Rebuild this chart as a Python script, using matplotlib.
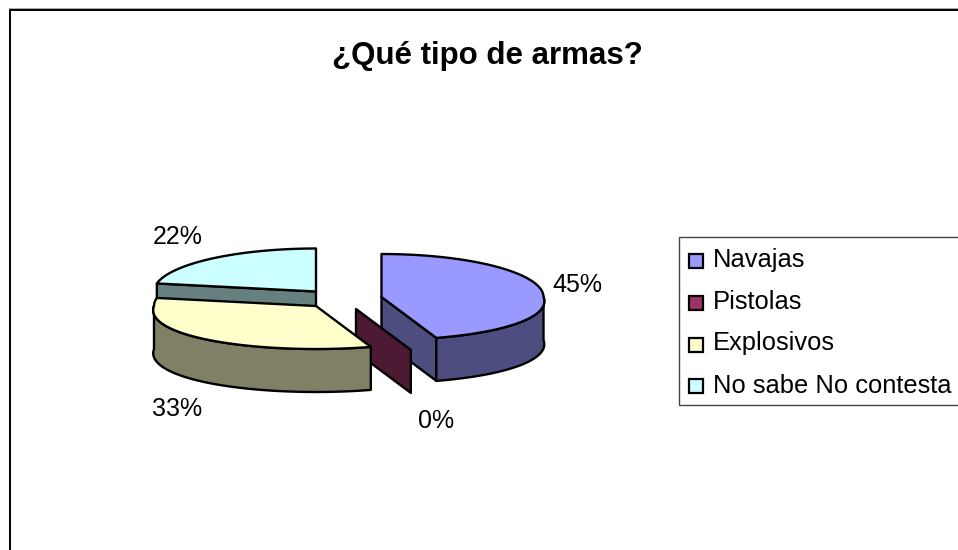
import numpy as np
import matplotlib
matplotlib.use("Agg")
import matplotlib.pyplot as plt
from matplotlib.patches import Polygon, Rectangle

plt.rcParams["font.family"] = ["Liberation Sans", "DejaVu Sans"]

titulo = "¿Qué tipo de armas?"
categorias = ["Navajas", "Pistolas", "Explosivos", "No sabe No contesta"]
valores = [45, 0, 33, 22]
colores = ["#9999FF", "#993366", "#FFFFCC", "#CCFFFF"]
sombras = ["#4D4D80", "#4D1A33", "#808066", "#668080"]

# layout in pixels of the 958x550 picture
centros = [(381.5, 297), (356, 309), (316, 306), (316, 291.5)]
pos_etiquetas = [(577.5, 285), (436.5, 421), (177.5, 409), (177.5, 237)]
legend_y = [260.5, 303, 344.5, 386]
legend_base = [266.7, 309, 350, 393]
RX, RY, PROF = 162, 43, 43
orden = [3, 0, 1, 2]  # painter's order, back to front

fig = plt.figure(figsize=(9.58, 5.5), dpi=100)
ax = fig.add_axes([0, 0, 1, 1])
ax.set_xlim(0, 958)
ax.set_ylim(550, 0)
ax.axis("off")


def punto(c, ang):
    t = np.radians(ang)
    # lower part of the pie is a bit wider (perspective of the 3D chart)
    k = 1 + 0.1 * np.maximum(-np.cos(t), 0)
    return c[0] + RX * np.sin(t) * k, c[1] - RY * np.cos(t)


def cara(puntos, color):
    ax.add_patch(Polygon(puntos, closed=True, fc=color, ec="black", lw=1.7, joinstyle="round"))


# slice angles, clockwise from 12 o'clock
fin = np.cumsum(valores) / np.sum(valores) * 360
ini = np.concatenate([[0], fin[:-1]])

for i in orden:
    c = centros[i]
    a, b = ini[i], fin[i]

    # cut faces that look to the front
    if 0 < b < 180:
        x, y = punto(c, b)
        cara([(c[0], c[1]), (x, y), (x, y + PROF), (c[0], c[1] + PROF)], sombras[i])
    if 180 < a < 360:
        x, y = punto(c, a)
        cara([(c[0], c[1]), (x, y), (x, y + PROF), (c[0], c[1] + PROF)], sombras[i])

    # outer wall, only the part between 90 and 270 degrees is visible
    a2, b2 = max(a, 90), min(b, 270)
    if b2 > a2:
        x, y = punto(c, np.linspace(a2, b2, 80))
        cara(np.r_[np.c_[x, y], np.c_[x, y + PROF][::-1]], sombras[i])

    # top face
    if b > a:
        x, y = punto(c, np.linspace(a, b, 120))
        cara(np.r_[[c], np.c_[x, y]], colores[i])

for i in range(len(valores)):
    ax.text(pos_etiquetas[i][0], pos_etiquetas[i][1], f"{valores[i]}%", fontsize=18,
            ha="center", va="center", color="black")

ax.text(487, 56, titulo, fontsize=22.5, fontweight="bold", ha="center", va="center", color="black")

# legend box runs off the right side like in the picture
ax.add_patch(Rectangle((679.5, 237), 300, 168, fc="white", ec="#444444", lw=1.0, clip_on=True))
for i in range(len(categorias)):
    ax.add_patch(Rectangle((689.5, legend_y[i] - 7), 13.5, 14, fc=colores[i], ec="black", lw=1.6))
    ax.text(713, legend_base[i], categorias[i], fontsize=18.4, ha="left", va="baseline", color="black")

# chart frame, cut by the picture on the right and at the bottom
ax.plot([10.5, 10.5, 958], [550, 9.5, 9.5], color="black", lw=1.4, solid_joinstyle="miter")
ax.plot([9.5, 958], [8.2, 8.2], color="#aaaaaa", lw=0.7)

fig.savefig("out.png", dpi=100, facecolor="white")
